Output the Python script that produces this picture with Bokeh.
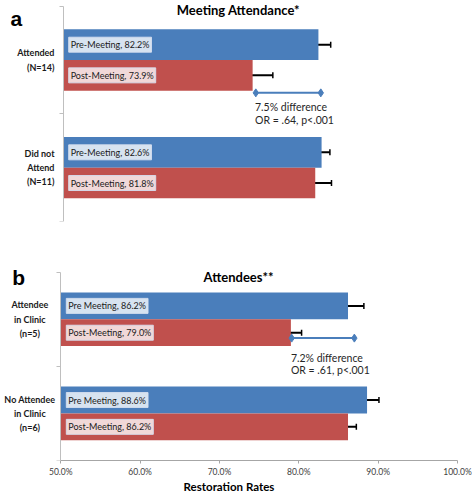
from bokeh.plotting import figure
from bokeh.models import (ColumnDataSource, Range1d, FixedTicker, Label, Whisker,
                          TeeHead, PrintfTickFormatter)
from bokeh.layouts import column
from bokeh.embed import file_html
from bokeh.resources import INLINE

# ---------------- data ----------------
# Panel a
a_groups = ["Attended\n(N=14)", "Did not\nAttend\n(N=11)"]
a_pre = [82.2, 82.6]
a_post = [73.9, 81.8]
a_pre_err = [1.55, 1.05]
a_post_err = [2.55, 2.05]
a_pre_name = "Pre-Meeting"
a_post_name = "Post-Meeting"
a_title = "Meeting Attendance*"
a_diff = [74.3, 82.5]
a_diff_text = ["7.5% difference", "OR = .64, p<.001"]

# Panel b
b_groups = ["Attendee\nin Clinic\n(n=5)", "No Attendee\nin Clinic\n(n=6)"]
b_pre = [86.2, 88.6]
b_post = [79.0, 86.2]
b_pre_err = [2.0, 1.5]
b_post_err = [1.35, 1.05]
b_pre_name = "Pre Meeting"
b_post_name = "Post-Meeting"
b_title = "Attendees**"
b_diff = [79.1, 87.0]
b_diff_text = ["7.2% difference", "OR = .61, p<.001"]

x_ticks = [50, 60, 70, 80, 90, 100]
x_label = "Restoration Rates"

# ---------------- style ----------------
BLUE = "#4a7ebb"
RED = "#c0504d"
FONT = "Lato"
BAR_H = 0.285
X0, X1 = 50, 100


def panel(letter, groups, pre, post, pre_err, post_err, pre_name, post_name,
          title, diff, diff_text, geo, show_x):
    n = len(groups)
    p = figure(frame_width=geo["fw"], frame_height=geo["fh"],
               min_border_left=0, min_border_right=geo["br"],
               min_border_top=0, min_border_bottom=geo["bb"],
               x_range=Range1d(geo["xs"], X1), y_range=Range1d(0, geo["ye"]),
               output_backend="svg", toolbar_location=None,
               x_axis_location="below" if show_x else None)
    p.outline_line_color = None
    p.background_fill_color = "white"
    p.border_fill_color = "white"
    p.xgrid.visible = False
    p.ygrid.visible = False

    centers = [n - i - 0.5 for i in range(n)]
    y_pre = [c + BAR_H / 2 for c in centers]
    y_post = [c - BAR_H / 2 for c in centers]

    p.hbar(y=y_pre, left=X0, right=pre, height=BAR_H, fill_color=BLUE, line_color=None)
    p.hbar(y=y_post, left=X0, right=post, height=BAR_H, fill_color=RED, line_color=None)

    # error bars
    for ys, vs, es in ((y_pre, pre, pre_err), (y_post, post, post_err)):
        src = ColumnDataSource(dict(y=ys, lo=[v - e for v, e in zip(vs, es)],
                                    hi=[v + e for v, e in zip(vs, es)]))
        w = Whisker(source=src, base="y", lower="lo", upper="hi", dimension="width",
                    line_color="black", line_width=2,
                    upper_head=TeeHead(size=6, line_color="black", line_width=1.5),
                    lower_head=TeeHead(size=6, line_color="black", line_width=1.5))
        p.add_layout(w)

    # bar labels
    for ys, vs, nm in ((y_pre, pre, pre_name), (y_post, post, post_name)):
        for y, v in zip(ys, vs):
            p.add_layout(Label(x=X0, y=y, x_offset=5.5, text=f"{nm}, {v:.1f}%",
                               text_font=FONT, text_font_size="9px", text_color="#1a1a1a",
                               text_align="left", text_baseline="middle",
                               background_fill_color="white", background_fill_alpha=0.78,
                               border_line_color="#d6dff0", border_line_alpha=0.9,
                               padding=2))

    # group labels
    for c, g in zip(centers, groups):
        p.add_layout(Label(x=geo["gx"], y=c, text=g, text_font=FONT,
                           text_font_size="9px", text_font_style="bold",
                           text_color="#1a1a1a", text_align=geo["galign"],
                           text_baseline="middle", text_line_height=1.3))

    # difference marker
    dy = geo["dy"]
    p.line(x=diff, y=[dy, dy], line_color=BLUE, line_width=2)
    p.scatter(x=diff, y=[dy, dy], marker="diamond", size=8, fill_color=BLUE, line_color=BLUE)
    for t, ty in zip(diff_text, geo["ty"]):
        p.add_layout(Label(x=diff[0] - 0.1, y=ty, text=t, text_font=FONT,
                           text_font_size="10.5px", text_color="#262626",
                           text_align="left", text_baseline="middle"))

    # title + panel letter
    p.add_layout(Label(x=geo["tx"], y=geo["tty"], text=title, text_font=FONT,
                       text_font_size="13px", text_font_style="bold", text_color="black",
                       text_align="center", text_baseline=geo["tbase"]))
    p.add_layout(Label(x=geo["lx"], y=geo["ly"], text=letter, text_font="Liberation Sans",
                       text_font_size="21px", text_font_style="bold", text_color="black",
                       text_align="left", text_baseline="alphabetic"))

    # y axis: a line at x=50 with boundary ticks only
    ya = p.yaxis[0]
    ya.fixed_location = X0
    ya.bounds = (0, n)
    ya.ticker = FixedTicker(ticks=[], minor_ticks=list(range(n + 1)))
    ya.axis_line_color = "#bfbfbf"
    ya.minor_tick_line_color = "#bfbfbf"
    ya.minor_tick_out = 4
    ya.minor_tick_in = 0
    ya.major_tick_line_color = None

    if show_x:
        ax = p.xaxis[0]
        ax.bounds = (X0, X1)
        ax.ticker = FixedTicker(ticks=x_ticks, minor_ticks=[])
        ax.formatter = PrintfTickFormatter(format="%.1f%%")
        ax.axis_line_color = "#a6a6a6"
        ax.major_tick_line_color = "#a6a6a6"
        ax.major_tick_out = 3
        ax.major_tick_in = 0
        ax.minor_tick_line_color = None
        ax.major_label_text_font = FONT
        ax.major_label_text_font_size = "8.5px"
        ax.major_label_text_color = "#404040"
        ax.major_label_standoff = 3
        ax.axis_label = x_label
        ax.axis_label_text_font = FONT
        ax.axis_label_text_font_size = "11.5px"
        ax.axis_label_text_font_style = "bold"
        ax.axis_label_text_color = "black"
        ax.axis_label_standoff = 0
    return p


geo_a = dict(fw=459, fh=221, br=13, bb=19, xs=42.09, ye=2.053,
             gx=48.9, galign="right", dy=1.195, ty=[1.06, 0.94],
             tx=72.1, tty=2.039, tbase="top", lx=43.35, ly=1.883)
geo_b = dict(fw=457, fh=220, br=15, bb=35, xs=42.40, ye=2.337,
             gx=46.1, galign="center", dy=1.30, ty=[1.092, 0.96],
             tx=72.4, tty=1.947, tbase="middle", lx=43.87, ly=1.947)

pa = panel("a", a_groups, a_pre, a_post, a_pre_err, a_post_err, a_pre_name, a_post_name,
           a_title, a_diff, a_diff_text, geo_a, show_x=False)
pb = panel("b", b_groups, b_pre, b_post, b_pre_err, b_post_err, b_pre_name, b_post_name,
           b_title, b_diff, b_diff_text, geo_b, show_x=True)

layout = column(pa, pb, spacing=0)
open("out.html", "w").write(file_html(layout, INLINE))
